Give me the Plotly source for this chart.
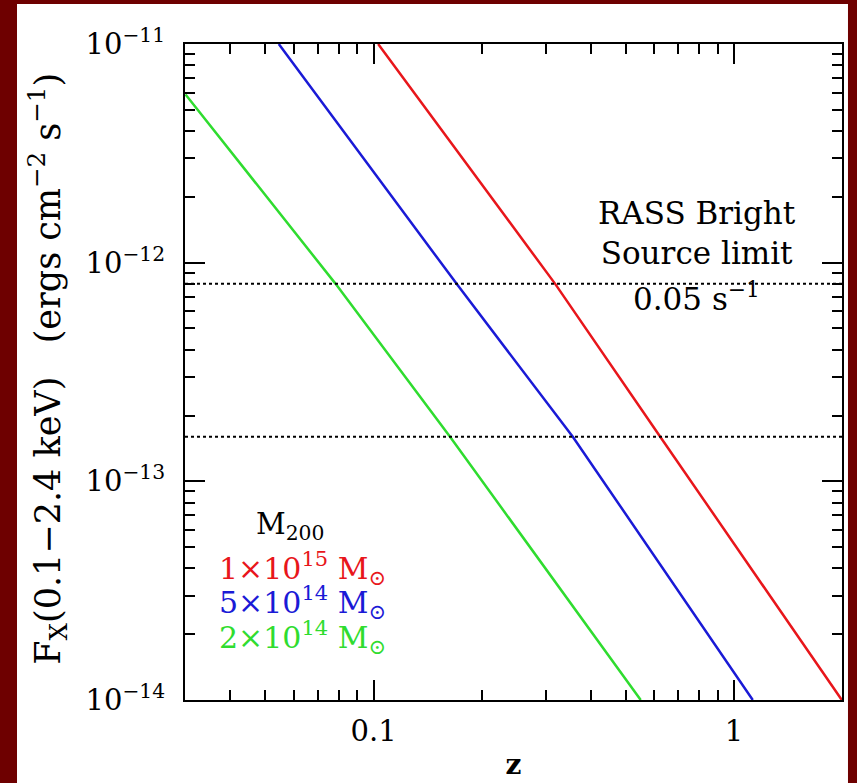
import plotly.graph_objects as go

# ---- data ----
z_red = [0.103, 0.319, 0.624, 1.99]
f_red = [1.0e-11, 8.0e-13, 1.6e-13, 1.0e-14]

z_blue = [0.0546, 0.170, 0.357, 1.127]
f_blue = [1.0e-11, 8.0e-13, 1.6e-13, 1.0e-14]

z_green = [0.0301, 0.0785, 0.163, 0.551]
f_green = [5.88e-12, 8.0e-13, 1.6e-13, 1.0e-14]

rass_limits = [8.0e-13, 1.6e-13]

series_names = ["1×10<sup>15</sup> M<sub>⊙</sub>", "5×10<sup>14</sup> M<sub>⊙</sub>", "2×10<sup>14</sup> M<sub>⊙</sub>"]
series_colors = ["#e8161b", "#1a1ad6", "#2fdc2f"]

x_tickvals = [0.1, 1]
x_ticktext = ["0.1", "1"]
y_tickvals = [1e-14, 1e-13, 1e-12, 1e-11]
y_ticktext = ["10<sup>−14</sup>", "10<sup>−13</sup>", "10<sup>−12</sup>", "10<sup>−11</sup>"]

x_minor = [m * 10 ** e for e in (-2, -1, 0) for m in range(2, 10)]
y_minor = [m * 10.0 ** e for e in (-14, -13, -12) for m in range(2, 10)]

FONT = "DejaVu Serif"
MAROON = "#6e0000"

fig = go.Figure()
for zs, fs, name, col in zip([z_red, z_blue, z_green], [f_red, f_blue, f_green], series_names, series_colors):
    fig.add_trace(go.Scatter(x=zs, y=fs, mode="lines", name=name,
                             line=dict(color=col, width=2.5), showlegend=False))

for val in rass_limits:
    fig.add_hline(y=val, line=dict(color="black", width=2, dash="dot"))

# white panel inside maroon frame
fig.add_shape(type="rect", xref="paper", yref="paper",
              x0=-0.2557, x1=1.0091, y0=-0.2, y1=1.061,
              fillcolor="white", line_width=0, layer="below")

axis_common = dict(showline=True, linecolor="black", linewidth=2, mirror="ticks",
                   ticks="inside", ticklen=20, tickwidth=2, tickcolor="black",
                   showgrid=False, zeroline=False, automargin=False,
                   tickfont=dict(family=FONT, size=29, color="black"))

fig.update_xaxes(type="log", range=[-1.5229, 0.2994], tickmode="array",
                 tickvals=x_tickvals, ticktext=x_ticktext, ticklabelstandoff=4,
                 minor=dict(tickvals=x_minor, ticks="inside", ticklen=10, tickwidth=2,
                            tickcolor="black", showgrid=False),
                 title=dict(text="<b>z</b>", font=dict(family=FONT, size=28, color="black"),
                            standoff=8),
                 **axis_common)
fig.update_yaxes(type="log", range=[-14, -11], tickmode="array",
                 tickvals=y_tickvals, ticktext=y_ticktext, ticklabelstandoff=12,
                 minor=dict(tickvals=y_minor, ticks="inside", ticklen=10, tickwidth=2,
                            tickcolor="black", showgrid=False),
                 **axis_common)

# y-axis title
fig.add_annotation(x=-0.2085, y=0.505, xref="paper", yref="paper", xanchor="center", yanchor="middle",
                   textangle=-90, showarrow=False,
                   text="F<sub>X</sub>(0.1−2.4 keV)&nbsp;&nbsp;&nbsp;(ergs cm<sup>−2</sup> s<sup>−1</sup>)",
                   font=dict(family=FONT, size=35, color="black"))

# legend-like labels
fig.add_annotation(x=0.16, y=0.266, xref="paper", yref="paper", xanchor="center", yanchor="middle",
                   text="M<sub>200</sub>", showarrow=False,
                   font=dict(family=FONT, size=29, color="black"))
for i, (name, col) in enumerate(zip(series_names, series_colors)):
    fig.add_annotation(x=0.048, y=0.201 - i * 0.053, xref="paper", yref="paper",
                       xanchor="left", yanchor="middle", text=name, showarrow=False,
                       font=dict(family=FONT, size=30, color=col))

fig.add_annotation(x=0.779, y=0.712, xref="paper", yref="paper", xanchor="center", yanchor="middle",
                   text="RASS Bright<br>Source limit", showarrow=False, align="center",
                   font=dict(family=FONT, size=31, color="black"))
fig.add_annotation(x=0.779, y=0.615, xref="paper", yref="paper", xanchor="center", yanchor="middle",
                   text="0.05 s<sup>−1</sup>", showarrow=False,
                   font=dict(family=FONT, size=31, color="black"))

fig.update_layout(width=857, height=783, paper_bgcolor=MAROON, plot_bgcolor="white",
                  margin=dict(l=185, r=15, t=44, b=83), showlegend=False)

fig.write_html("out.html", config={"displayModeBar": False},
               post_script="document.body.style.margin='0px';")
